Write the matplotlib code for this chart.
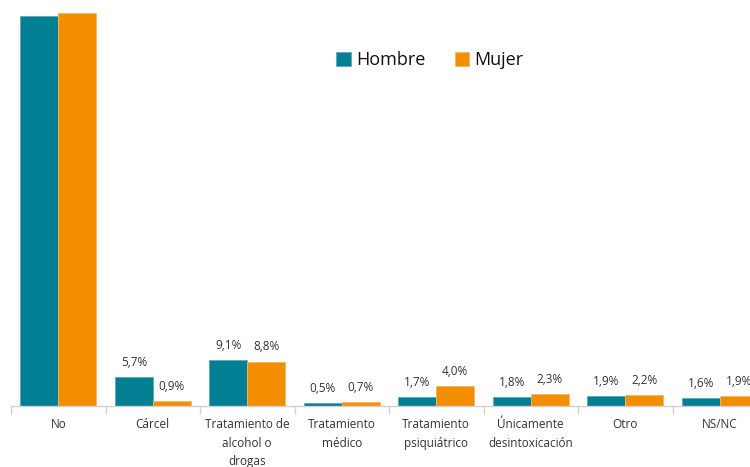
import matplotlib
matplotlib.use("Agg")
import matplotlib.pyplot as plt
import numpy as np

categories = ["No", "Cárcel", "Tratamiento de\nalcohol o\ndrogas", "Tratamiento\nmédico",
              "Tratamiento\npsiquiátrico", "Únicamente\ndesintoxicación", "Otro", "NS/NC"]
hombre = [77.7, 5.7, 9.1, 0.5, 1.7, 1.8, 1.9, 1.6]
mujer = [78.3, 0.9, 8.8, 0.7, 4.0, 2.3, 2.2, 1.9]
series_names = ["Hombre", "Mujer"]

c_h = "#027f93"
c_m = "#f28e00"
txt = "#333333"

plt.rcParams['font.family'] = ['Open Sans', 'DejaVu Sans']

fig = plt.figure(figsize=(7.5, 4.67), dpi=100)
W, H = 750, 467
left_px, right_px = 11, 11 + 8 * 94.5
base_px = 406
ax = fig.add_axes([left_px / W, 1 - base_px / H, (right_px - left_px) / W, base_px / H])

x = np.arange(len(categories))
bw = 0.4
b1 = ax.bar(x - bw / 2, hombre, bw, color=c_h, edgecolor="#5aa9c0", linewidth=0.6, label=series_names[0])
b2 = ax.bar(x + bw / 2, mujer, bw, color=c_m, edgecolor="#f6b860", linewidth=0.6, label=series_names[1])

ax.set_xlim(-0.5, len(categories) - 0.5)
ax.set_ylim(0, 80.8)

def fmt(v):
    return f"{v:.1f}".replace(".", ",") + "%"

# The "No" bars reach beyond the top of the chart; their labels are not shown
for bars, vals in ((b1, hombre), (b2, mujer)):
    for i, (r, v) in enumerate(zip(bars, vals)):
        if i == 0:
            continue
        ax.annotate(fmt(v), (r.get_x() + r.get_width() / 2, v), xytext=(0, 6),
                    textcoords="offset points", ha="center", va="bottom",
                    fontsize=8.5, color=txt)

for s in ["top", "right", "left"]:
    ax.spines[s].set_visible(False)
ax.spines["bottom"].set_color("#d0d0d0")
ax.spines["bottom"].set_linewidth(1)
ax.set_yticks([])
ax.set_xticks(x)
ax.set_xticklabels(categories, fontsize=8.5, color=txt, linespacing=1.55)
ax.tick_params(axis="x", which="major", length=0, pad=9)
ax.set_xticks(np.arange(len(categories) + 1) - 0.5, minor=True)
ax.tick_params(axis="x", which="minor", length=6, color="#d0d0d0", width=1)

fig.legend(handles=[b1, b2], labels=series_names, loc="center", bbox_to_anchor=(430 / W, 1 - 60 / H),
           ncol=2, frameon=False, fontsize=13, handlelength=0.8, handleheight=0.8,
           handletextpad=0.3, columnspacing=1.6, labelcolor="#111111")

fig.savefig("out.png", dpi=100)
